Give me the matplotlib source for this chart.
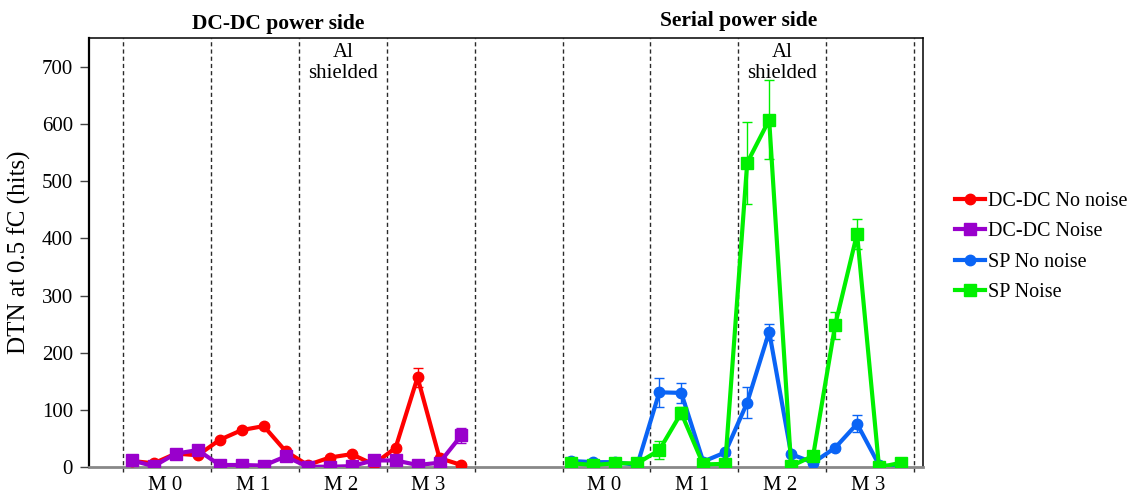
import numpy as np
import matplotlib
matplotlib.use("Agg")
import matplotlib.pyplot as plt

plt.rcParams['font.family'] = ['Liberation Serif', 'DejaVu Serif']

# ---- data ----
modules = ["M 0", "M 1", "M 2", "M 3"]
dc_nonoise = [11, 7, 24, 21, 48, 65, 72, 28, 4, 17, 23, 5, 34, 157, 16, 4]
dc_nonoise_err = [2, 2, 3, 3, 3, 3, 4, 3, 1, 2, 2, 1, 3, 16, 2, 1]
dc_noise = [12, 2, 24, 30, 4, 4, 3, 19, 1, 1, 2, 12, 12, 4, 8, 56]
dc_noise_err = [2, 1, 2, 3, 1, 1, 1, 3, 1, 1, 1, 2, 2, 1, 2, 13]
sp_nonoise = [11, 9, 9, 4, 131, 130, 10, 26, 113, 237, 23, 8, 34, 76, 4, 0]
sp_nonoise_err = [2, 2, 2, 1, 25, 17, 2, 4, 27, 14, 3, 2, 3, 15, 1, 1]
sp_noise = [7, 4, 7, 7, 30, 95, 5, 6, 532, 607, 2, 20, 248, 408, 0, 8]
sp_noise_err = [2, 1, 2, 2, 16, 10, 2, 2, 72, 69, 1, 3, 23, 26, 1, 2]
labels = ["DC-DC No noise", "DC-DC Noise", "SP No noise", "SP Noise"]
colors = ["#FF0000", "#9900CC", "#0A64F5", "#00F000"]
yticks = [0, 100, 200, 300, 400, 500, 600, 700]

n_per_mod = 4
x_dc = np.arange(len(dc_nonoise))
x_sp = np.arange(len(sp_nonoise)) + 20

fig = plt.figure(figsize=(11.36, 4.97), dpi=100)
ax = fig.add_axes([89/1136, 1-467.3/497, (923-89)/1136, (467.3-38)/497])

# dashed module separators
for off in (0, 20):
    for k in range(5):
        ax.axvline(off + k*n_per_mod - 0.4, color='#2a2a2a', lw=1.0,
                   ls=(0, (3, 2.2)), zorder=1, clip_on=False, ymin=-0.01)

series = [
    (x_dc, dc_nonoise, dc_nonoise_err, 'o', 7.5),
    (x_dc, dc_noise, dc_noise_err, 's', 9),
    (x_sp, sp_nonoise, sp_nonoise_err, 'o', 7.5),
    (x_sp, sp_noise, sp_noise_err, 's', 9),
]
handles = []
for i, (xs, ys, es, m, ms) in enumerate(series):
    c = ax.errorbar(xs, ys, yerr=es, color=colors[i], ecolor=colors[i], elinewidth=1.0,
                    capsize=3.5, capthick=1.0, lw=3, marker=m, ms=ms,
                    label=labels[i], zorder=3 + i)
    handles.append(c.lines[0])

ax.set_xlim(-1.95, 36.0)
ax.set_ylim(0, 750)
ax.set_yticks(yticks)
ax.set_xticks([])
ax.tick_params(axis='y', labelsize=15, length=6.5, width=1, color='#444444', pad=5)
for s in ('top', 'right'):
    ax.spines[s].set_linewidth(1.1)
ax.spines['left'].set_linewidth(1.6)
ax.spines['bottom'].set_color('#888888')
ax.spines['bottom'].set_linewidth(2)

ax.set_ylabel("DTN at 0.5 fC (hits)", fontsize=18)
ax.yaxis.set_label_coords(-0.069, 0.5)

# module labels
for off in (0, 20):
    for k, lab in enumerate(modules):
        ax.text(off + k*n_per_mod + 1.5, -0.053, lab, transform=ax.get_xaxis_transform(),
                ha='center', va='baseline', fontsize=15, clip_on=False)
    ax.text(off + 2*n_per_mod + 1.6, 0.988, "Al\nshielded", transform=ax.get_xaxis_transform(),
            ha='center', va='top', fontsize=15, linespacing=1.15)

ax.text(6.67, 1.022, "DC-DC power side", transform=ax.get_xaxis_transform(),
        ha='center', va='baseline', fontsize=15.5, fontweight='bold')
ax.text(27.6, 1.028, "Serial power side", transform=ax.get_xaxis_transform(),
        ha='center', va='baseline', fontsize=15.5, fontweight='bold')

fig.legend(handles, labels, loc='center left', bbox_to_anchor=(955/1136, 1-247/497),
           frameon=False, fontsize=14.5, handlelength=1.5, handletextpad=0.15,
           borderpad=0, borderaxespad=0, labelspacing=0.55)

fig.savefig("out.png", dpi=100)
